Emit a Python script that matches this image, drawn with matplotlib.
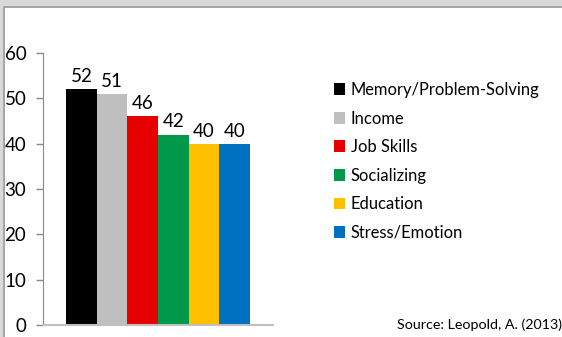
import numpy as np
import matplotlib.pyplot as plt
from matplotlib.patches import Rectangle

categories = ['Memory/Problem-Solving', 'Income', 'Job Skills', 'Socializing',
              'Education', 'Stress/Emotion']
values = [52, 51, 46, 42, 40, 40]
colors = ['#000000', '#BFBFBF', '#E60000', '#00994A', '#FFC000', '#0070C0']
yticks = [0, 10, 20, 30, 40, 50, 60]
source = 'Source: Leopold, A. (2013)'

plt.rcParams['font.family'] = ['Lato', 'DejaVu Sans']

W, H = 562, 337
fig = plt.figure(figsize=(W / 100, H / 100), dpi=100)

# window-style frame along top and left edges
fig.patches.append(Rectangle((0, 1 - 6 / H), 1, 6 / H, transform=fig.transFigure,
                             facecolor='#D9D9D9', edgecolor='none', zorder=0))
fig.patches.append(Rectangle((0, 1 - 7.5 / H), 1, 1.5 / H, transform=fig.transFigure,
                             facecolor='#A6A6A6', edgecolor='none', zorder=0))
fig.patches.append(Rectangle((0, 0), 3 / W, 1, transform=fig.transFigure,
                             facecolor='#D9D9D9', edgecolor='none', zorder=0))
fig.patches.append(Rectangle((3 / W, 0), 1.5 / W, 1 - 6 / H, transform=fig.transFigure,
                             facecolor='#A6A6A6', edgecolor='none', zorder=0))

ax = fig.add_axes([43 / W, 12 / H, 230 / W, 272 / H])
x = np.arange(len(values))
bars = ax.bar(x, values, width=1.0, color=colors, label=categories)
ax.bar_label(bars, padding=3, fontsize=13.5)

ax.set_xlim(-1.25, 6.25)
ax.set_ylim(0, 60)
ax.set_yticks(yticks)
ax.set_xticks([])
ax.tick_params(axis='y', length=5, width=1, color='#888888', labelsize=13.5, pad=7)
for s in ['top', 'right']:
    ax.spines[s].set_visible(False)
ax.spines['left'].set_color('#888888')
ax.spines['bottom'].set_color('#BFBFBF')
ax.spines['bottom'].set_linewidth(1.5)

fig.legend(handles=bars.patches, labels=categories, loc='upper left',
           bbox_to_anchor=(334 / W, 1 - 82 / H), frameon=False, fontsize=11.9,
           borderpad=0, borderaxespad=0, handlelength=0.67, handleheight=0.72,
           handletextpad=0.35, labelspacing=0.76)

fig.text(397 / W, 1 - 325 / H, source, fontsize=10.3, va='center', ha='left')

fig.savefig('out.png', dpi=100)
